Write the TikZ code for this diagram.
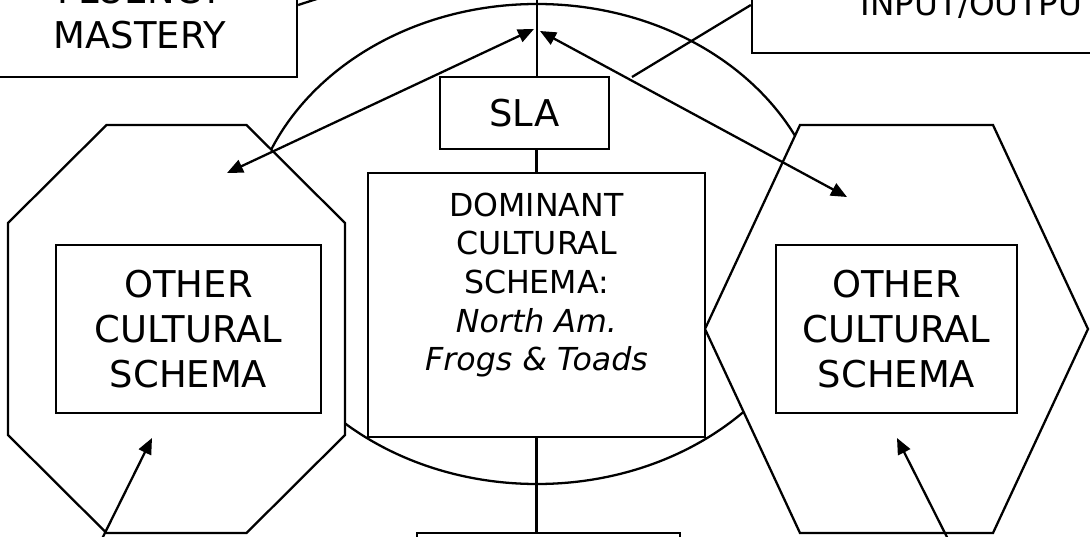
\documentclass[tikz,border=0pt]{standalone}
\usepackage{fontspec}
\setmainfont{DejaVu Sans}
\usetikzlibrary{arrows.meta}

\begin{document}
\begin{tikzpicture}[>={Triangle[length=1.6mm,width=1.35mm]}, line width=0.65pt,
	box/.style={draw, fill=white, align=center, inner sep=0pt},
	bigtext/.style={font=\fontsize{10.5}{12.7}\selectfont},
	smalltext/.style={font=\fontsize{9}{11}\selectfont}]
						\useasboundingbox (0,0) rectangle (10.9,-5.37);
						\clip (0,0) rectangle (10.9,-5.37);

						\draw (5.37,-2.44) ellipse [x radius=2.89, y radius=2.40];

						\draw[fill=white] (1.065,-1.25) -- (2.465,-1.25) -- (3.45,-2.23) -- (3.45,-4.35)
							-- (2.465,-5.33) -- (1.065,-5.33) -- (0.08,-4.35) -- (0.08,-2.23) -- cycle;
						\draw[fill=white] (7.05,-3.29) -- (8.00,-1.25) -- (9.93,-1.25) -- (10.88,-3.29)
							-- (9.93,-5.33) -- (8.00,-5.33) -- cycle;

						\node[box, bigtext, minimum width=3.14cm, minimum height=1.29cm] (fluency) at (1.40,-0.125) {FLUENCY\\MASTERY};
						\node[box, font=\fontsize{9.3}{11}\selectfont, minimum width=4.59cm, minimum height=0.96cm] (io) at (9.815,-0.05) {INPUT/OUTPUT};

						\node[box, bigtext, minimum width=1.69cm, minimum height=0.72cm] (sla) at (5.245,-1.13) {SLA};
						\node[box, smalltext, minimum width=3.37cm, minimum height=2.64cm] (dom) at (5.365,-3.05)
							{DOMINANT\\CULTURAL\\SCHEMA:\\\textit{North Am.}\\\textit{Frogs \& Toads}\\[0.08cm]~};

						\node[box, bigtext, minimum width=2.65cm, minimum height=1.68cm] (otherl) at (1.885,-3.29) {OTHER\\CULTURAL\\SCHEMA};
						\node[box, bigtext, minimum width=2.41cm, minimum height=1.68cm] (otherr) at (8.965,-3.29) {OTHER\\CULTURAL\\SCHEMA};

						\node[box, minimum width=2.63cm, minimum height=1cm] (bottom) at (5.485,-5.83) {};

						\coordinate (topend) at (5.37,0.2);
						\coordinate (flufree) at (3.60,0.15);
						\coordinate (iofree) at (6.32,-0.77);
						\coordinate (ltip) at (2.27,-1.73);
						\coordinate (rtip) at (8.47,-1.97);
						\coordinate (ctipl) at (5.34,-0.29);
						\coordinate (ctipr) at (5.40,-0.31);
						\coordinate (lfoot) at (0.93,-5.57);
						\coordinate (lhead) at (1.52,-4.38);
						\coordinate (rfoot) at (9.57,-5.57);
						\coordinate (rhead) at (8.97,-4.38);

						\draw (topend) -- (topend |- sla.north);
						\draw (dom.north |- sla.south) -- (dom.north);
						\draw (dom.south) -- (dom.south |- bottom.north);
						\draw (fluency.east |- 0,-0.05) -- (flufree);
						\draw (io.west) -- (iofree);

						\draw[<->] (ltip) -- (ctipl);
						\draw[<->] (ctipr) -- (rtip);
						\draw[->] (lfoot) -- (lhead);
						\draw[->] (rfoot) -- (rhead);

					\end{tikzpicture}
\end{document}
